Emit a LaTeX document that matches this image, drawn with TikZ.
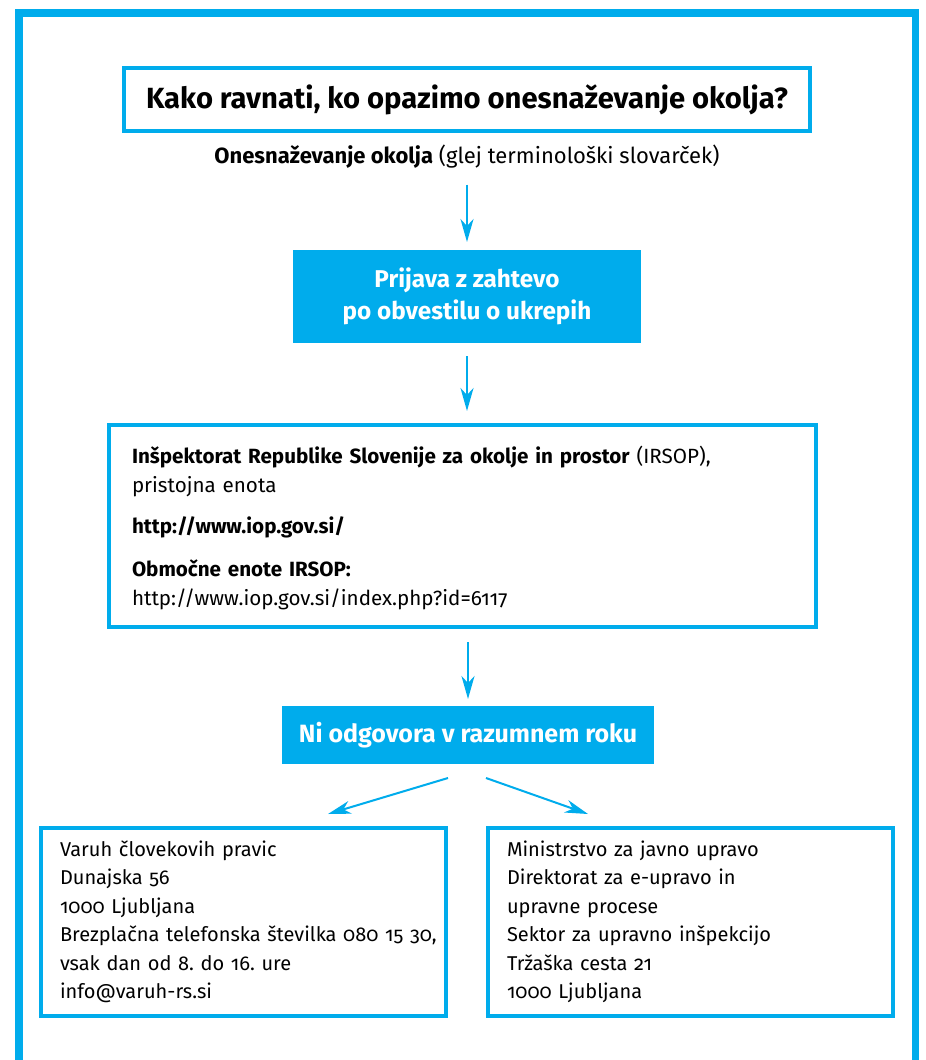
\documentclass[tikz,border=0pt]{standalone}
\usepackage{fontspec}
\setmainfont{Fira Sans}[Numbers=OldStyle,RawFeature={+onum}]
\usepackage{tikz}
\usetikzlibrary{arrows.meta,positioning}
\definecolor{irsopblue}{RGB}{0,172,236}
\frenchspacing

\begin{document}
\begin{tikzpicture}[x=1pt,y=-1pt,>={Stealth[length=23pt,width=13pt,inset=7pt]},
                    line width=2pt]
  \tikzstyle{framed}=[draw=irsopblue,line width=4pt]
  \tikzstyle{filled}=[fill=irsopblue,text=white,align=center,
                      font=\bfseries\fontsize{24.3}{32}\selectfont]
  \tikzstyle{flow}=[->,draw=irsopblue,line width=2pt]
  \tikzstyle{addr}=[framed,minimum width=405pt,minimum height=188pt,text width=367pt,
                    inner xsep=19pt,align=left,font=\fontsize{20}{28.5}\selectfont]

  \useasboundingbox (0,0) rectangle (926,1060);
  \draw[irsopblue,line width=7.5pt] (19,1060) |- (915.5,13) -- (915.5,1060);

  \node[framed,minimum width=686pt,minimum height=63pt,
        font=\bfseries\fontsize{29.2}{34}\selectfont] (title) at (467,99.5)
        {Kako ravnati, ko opazimo onesnaževanje okolja?};
  \node (sub) [below of=title,node distance=58.5pt,inner sep=0pt,text height=16pt,
        text depth=5pt,font=\fontsize{22}{26}\selectfont]
        {\textbf{Onesnaževanje okolja} (glej terminološki slovarček)};
  \node[filled,minimum width=348pt,minimum height=93pt] (prijava)
        [below of=sub,node distance=138.5pt]
        {Prijava z zahtevo\\po obvestilu o ukrepih};
  \node[framed,minimum width=707pt,minimum height=202pt,text width=661pt,
        inner xsep=23pt,align=left,font=\fontsize{20.6}{29}\selectfont] (irsop)
        [below of=prijava,node distance=229.5pt,xshift=-4.5pt]
        {\rule{0pt}{22pt}\textbf{Inšpektorat Republike Slovenije za okolje in prostor} (IRSOP),\\
         pristojna enota\\[12pt]
         \textbf{http://www.iop.gov.si/}\\[14pt]
         \textbf{Območne enote IRSOP:}\\
         http://www.iop.gov.si/index.php?id=6117};
  \node[filled,minimum width=372pt,minimum height=58pt,font=\bfseries\fontsize{25}{30}\selectfont] (ni)
        [below of=irsop,node distance=209pt,xshift=5.5pt]
        {Ni odgovora v razumnem roku};
  \node[addr] (varuh) [below of=ni,node distance=187pt,xshift=-224.5pt]
        {Varuh človekovih pravic\\
         Dunajska 56\\
         1000 Ljubljana\\
         \mbox{Brezplačna telefonska številka 080 15 30,}\\
         vsak dan od 8. do 16. ure\\
         info@varuh-rs.si};
  \node[addr] (ministr) [below of=ni,node distance=187pt,xshift=222.5pt]
        {Ministrstvo za javno upravo\\
         Direktorat za e-upravo in\\
         upravne procese\\
         Sektor za upravno inšpekcijo\\
         Tržaška cesta 21\\
         1000 Ljubljana};

  \draw[flow,shorten <=15pt,shorten >=7pt] (sub.south) -- (prijava.north);
  \draw[flow,shorten <=12pt,shorten >=12pt] (prijava.south) -- (prijava.south |- irsop.north);
  \draw[flow,shorten <=13pt,shorten >=6pt] (irsop.south -| ni.north) -- (ni.north);
  \draw[flow] ([xshift=-20pt,yshift=-13pt]ni.south) -- ([xshift=84.5pt,yshift=12pt]varuh.north);
  \draw[flow] ([xshift=18pt,yshift=-13pt]ni.south) -- ([xshift=-102.5pt,yshift=12pt]ministr.north);
\end{tikzpicture}
\end{document}
